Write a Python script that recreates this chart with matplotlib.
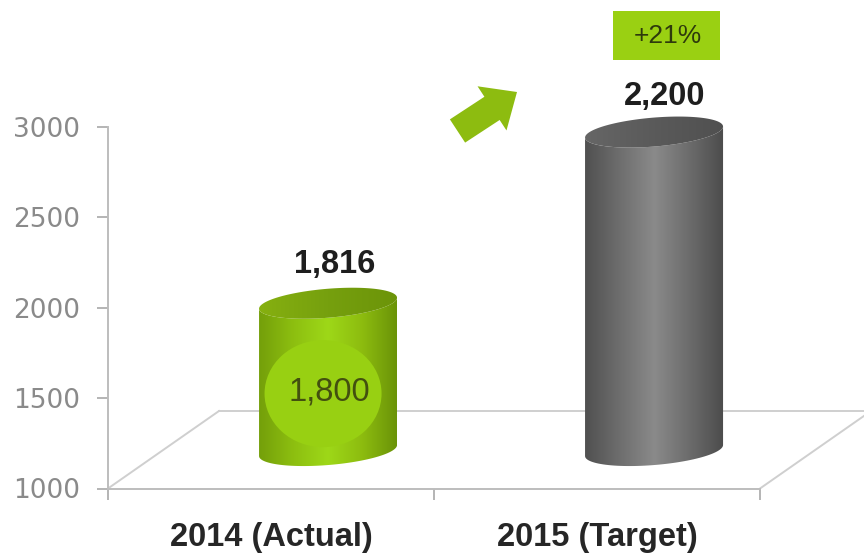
import numpy as np
import matplotlib
matplotlib.use('Agg')
import matplotlib.pyplot as plt
from matplotlib.colors import LinearSegmentedColormap
from matplotlib.patches import Ellipse, FancyArrowPatch, Polygon, Rectangle

categories = ['2014 (Actual)', '2015 (Target)']
bar_labels = ['1,816', '2,200']
# heights as they sit against the axis (3D chart, so not the labelled values)
bar_tops = [2025, 2972]
bar_base = 1210
y_ticks = [1000, 1500, 2000, 2500, 3000]
growth_label = '+21%'
inner_label = '1,800'

W, H = 864, 553
FONT = 'Liberation Sans'

green = LinearSegmentedColormap.from_list('g', ['#749f0a', '#8dbf10', '#9ed818', '#8dbc0f', '#6a9308'])
grey = LinearSegmentedColormap.from_list('k', ['#505050', '#6e6e6e', '#8a8a8a', '#6c6c6c', '#4c4c4c'])
green_top = LinearSegmentedColormap.from_list('gt', ['#86b010', '#76a00e', '#6c9409'])
grey_top = LinearSegmentedColormap.from_list('kt', ['#666666', '#5a5a5a', '#505050'])

fig = plt.figure(figsize=(W / 100, H / 100), dpi=100)
ax = fig.add_axes([108 / W, 1 - 488.5 / H, 652 / W, 361.5 / H])
xlim = (-0.5, 1.5)
ylim = (1000, 3000)

px_x = (xlim[1] - xlim[0]) / 652
px_y = (ylim[1] - ylim[0]) / 361.5
depth_x = 0.175      # bars sit half way back on the floor
half_w = 69 * px_x
ell_b = 14.5 * px_y
ell_k = 5.5 * px_y


def ring(cx, cy, t):
    return cx + half_w * np.cos(t), cy + ell_b * np.sin(t) + ell_k * np.cos(t)


def cylinder(cx, top, base, cmap, cmap_top):
    t = np.linspace(np.pi, 2 * np.pi, 60)
    bx, by = ring(cx, base, t)
    tx, ty = ring(cx, top, t[::-1])
    body = np.column_stack([np.r_[bx, tx], np.r_[by, ty]])
    clip = Polygon(body, closed=True, transform=ax.transData, fc='none', ec='none')
    ax.add_patch(clip)
    grad = np.linspace(0, 1, 256).reshape(1, -1)
    im = ax.imshow(grad, cmap=cmap, extent=[cx - half_w, cx + half_w, base - 200, top + 200],
                   aspect='auto', zorder=3, interpolation='bilinear')
    im.set_clip_path(clip)
    im.set_clip_box(fig.bbox)

    t = np.linspace(0, 2 * np.pi, 120)
    ex, ey = ring(cx, top, t)
    cap = Polygon(np.column_stack([ex, ey]), closed=True, transform=ax.transData, fc='none', ec='none')
    ax.add_patch(cap)
    im2 = ax.imshow(grad, cmap=cmap_top, extent=[cx - half_w, cx + half_w, top - 200, top + 200],
                    aspect='auto', zorder=4, interpolation='bilinear')
    im2.set_clip_path(cap)
    im2.set_clip_box(fig.bbox)


# floor of the 3D plot
floor_dx = 111 * px_x
floor_dy = 77.5 * px_y
floor_col = '#cfcfcf'
ax.plot([xlim[0], xlim[0] + floor_dx], [ylim[0], ylim[0] + floor_dy], color=floor_col, lw=1.4, zorder=1, clip_on=False)
ax.plot([xlim[0] + floor_dx, xlim[1] + floor_dx], [ylim[0] + floor_dy] * 2, color=floor_col, lw=1.4, zorder=1, clip_on=False)
ax.plot([xlim[1], xlim[1] + floor_dx], [ylim[0], ylim[0] + floor_dy], color=floor_col, lw=1.4, zorder=1, clip_on=False)

cylinder(0 + depth_x, bar_tops[0], bar_base, green, green_top)
cylinder(1 + depth_x, bar_tops[1], bar_base, grey, grey_top)

disc_x = depth_x - 5 * px_x
disc = Ellipse((disc_x, 1525), 117 * px_x, 107 * px_y, fc='#98d012', ec='none', zorder=5)
ax.add_patch(disc)
ax.text(disc_x + 6 * px_x, 1525 - 6.5 * px_y, inner_label, fontsize=23.5, family=FONT, color='#43500f',
        ha='center', va='baseline', zorder=6)

ax.text(0 + depth_x + 7 * px_x, bar_tops[0] + 30 * px_y, bar_labels[0], fontsize=23.5, family=FONT, weight='bold',
        color='#1e1e1e', ha='center', va='baseline')
ax.text(1 + depth_x + 11 * px_x, bar_tops[1] + 27 * px_y, bar_labels[1], fontsize=23.5, family=FONT, weight='bold',
        color='#1e1e1e', ha='center', va='baseline', clip_on=False)

ax.set_xlim(xlim)
ax.set_ylim(ylim)
ax.patch.set_visible(False)
for side in ['top', 'right']:
    ax.spines[side].set_visible(False)
for side in ['left', 'bottom']:
    ax.spines[side].set_color('#bdbdbd')
    ax.spines[side].set_linewidth(1.4)
ax.set_yticks(y_ticks)
ax.set_xticks([-0.5, 0.5, 1.5], labels=['', '', ''])
ax.set_xticks([0, 1], labels=categories, minor=True)
ax.tick_params(axis='both', which='major', length=8, width=1.2, color='#a8a8a8')
ax.tick_params(axis='y', labelsize=19, labelcolor='#8a8a8a', pad=12)
ax.tick_params(axis='x', which='minor', length=0, pad=24, labelsize=23.5, labelcolor='#262626')
for lab in ax.get_xticklabels(minor=True):
    lab.set_family(FONT)
    lab.set_weight('bold')

# growth badge and arrow, placed on the figure
fig.add_artist(Rectangle((613 / W, 1 - 60 / H), 107 / W, 49 / H, transform=fig.transFigure,
                         fc='#9ad012', ec='none'))
fig.text(667.5 / W, 1 - 43 / H, growth_label, fontsize=19, family=FONT, color='#2e3a0c',
         ha='center', va='baseline')
fig.add_artist(FancyArrowPatch((457.5 / W, 1 - 131 / H), (517 / W, 1 - 92 / H), transform=fig.transFigure,
                               arrowstyle='simple,head_length=21.5,head_width=38,tail_width=20',
                               mutation_scale=1, shrinkA=0, shrinkB=0, fc='#8dbc10', ec='none'))

fig.savefig('out.png', dpi=100)
